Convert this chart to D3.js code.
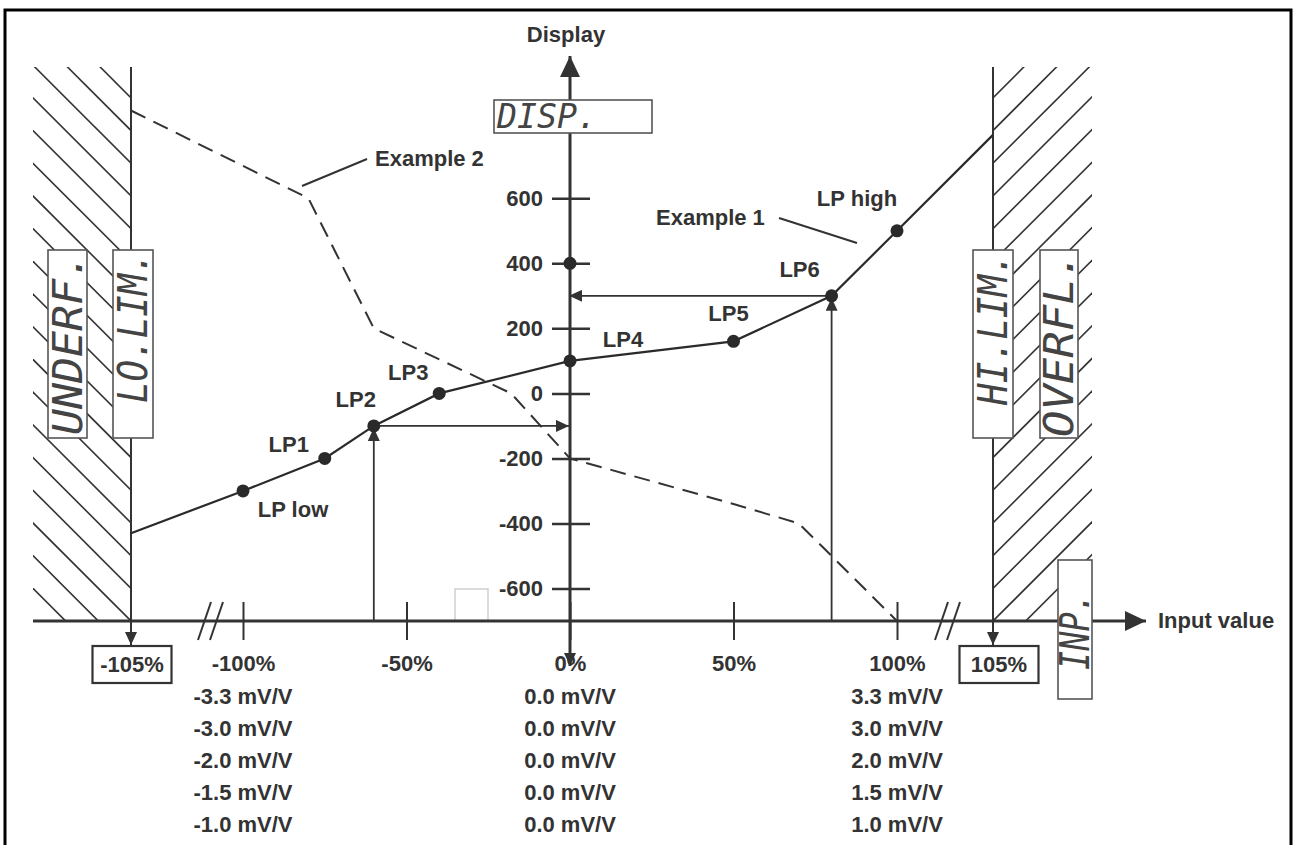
<!DOCTYPE html>
<html>
<head>
<meta charset="utf-8">
<script src="https://cdn.jsdelivr.net/npm/d3@7"></script>
<style>
  html, body { margin: 0; padding: 0; background: #fff; }
  svg { display: block; }
  text { font-family: "Liberation Sans", Arial, sans-serif; font-weight: bold; fill: #333; }
  text.lcd { font-family: "DejaVu Sans Mono", monospace; font-style: italic; font-weight: normal; fill: #444; }
</style>
</head>
<body>
<div id="chart"></div>
<script>
// ------------------------------------------------------------------ DATA
const xTicks = [-100, -50, 0, 50, 100];            // input value, %
const yTicks = [600, 400, 200, 0, -200, -400, -600]; // display
const limits = [-105, 105];

// Example 1 (solid, linearisation points)
const ex1Pct   = [-105, -100, -75, -60, -40, 0, 50, 80, 100, 105];
const ex1Val   = [-430, -300, -200, -100, 0, 100, 160, 300, 500, 795];
const ex1Names = ["", "LP low", "LP1", "LP2", "LP3", "LP4", "LP5", "LP6", "LP high", ""];

// Example 2 (dashed)
const ex2Pct = [-105, -80, -60, -18, 0, 50, 70, 100];
const ex2Val = [870, 600, 200, 0, -200, -340, -400, -700];

const readPoints = ["LP2", "LP6"];   // shown with read-off arrows
const axisDots   = [400];            // extra dot on the display axis

const mvLeft  = ["-3.3 mV/V", "-3.0 mV/V", "-2.0 mV/V", "-1.5 mV/V", "-1.0 mV/V"];
const mvMid   = ["0.0 mV/V", "0.0 mV/V", "0.0 mV/V", "0.0 mV/V", "0.0 mV/V"];
const mvRight = ["3.3 mV/V", "3.0 mV/V", "2.0 mV/V", "1.5 mV/V", "1.0 mV/V"];

// ------------------------------------------------------------------ SETUP
const W = 1296, H = 845;
const INK = '#333';

// broken x axis: -105 / 105 sit beyond the break marks
const x = d3.scaleLinear().domain([-105, -100, 100, 105]).range([131, 243, 897, 993]);
const y = d3.scaleLinear().domain([-700, 600]).range([621, 198.3]);
const x0 = x(0), yBase = y(-700);

const svg = d3.select('#chart').append('svg')
  .attr('width', W).attr('height', H)
  .attr('viewBox', [0, 0, W, H]);

const defs = svg.append('defs');
function marker(id, len, wid) {
  defs.append('marker')
    .attr('id', id)
    .attr('viewBox', `0 0 ${len} ${wid}`)
    .attr('refX', len).attr('refY', wid / 2)
    .attr('markerWidth', len).attr('markerHeight', wid)
    .attr('markerUnits', 'userSpaceOnUse')
    .attr('orient', 'auto')
    .append('path')
    .attr('d', `M0,0L${len},${wid / 2}L0,${wid}Z`)
    .attr('fill', INK);
}
marker('big', 21, 20);
marker('small', 13, 12);

// ------------------------------------------------------------------ FRAME
svg.append('rect')
  .attr('x', 5).attr('y', 10).attr('width', 1286).attr('height', 870)
  .attr('fill', 'none').attr('stroke', '#000').attr('stroke-width', 3);

// ------------------------------------------------------------------ HATCHED LIMIT ZONES
const hatchTop = 67;
const zones = [
  { id: 'clipL', x1: 33, x2: x(-105), dir: -1 },
  { id: 'clipR', x1: x(105), x2: 1092, dir: 1 }
];
zones.forEach(z => {
  defs.append('clipPath').attr('id', z.id)
    .append('rect').attr('x', z.x1).attr('y', hatchTop)
    .attr('width', z.x2 - z.x1).attr('height', yBase - hatchTop);
  const g = svg.append('g').attr('clip-path', `url(#${z.id})`)
    .attr('stroke', INK).attr('stroke-width', 1.6);
  const cornerX = z.dir < 0 ? z.x2 : z.x1;
  d3.range(-20, 21).forEach(k => {
    const off = k * 32.7;
    if (z.dir < 0) {           // "\" lines through the bottom corner
      g.append('line')
        .attr('x1', cornerX + off - 700).attr('y1', yBase - 700)
        .attr('x2', cornerX + off + 100).attr('y2', yBase + 100);
    } else {                   // "/" lines
      g.append('line')
        .attr('x1', cornerX + off - 100).attr('y1', yBase + 100)
        .attr('x2', cornerX + off + 700).attr('y2', yBase - 700);
    }
  });
});

// limit lines
svg.append('g').selectAll('line')
  .data(limits).join('line')
  .attr('x1', d => x(d)).attr('x2', d => x(d))
  .attr('y1', hatchTop).attr('y2', yBase)
  .attr('stroke', INK).attr('stroke-width', 2);

// faint square near the axis
svg.append('rect')
  .attr('x', 455).attr('y', 589).attr('width', 33).attr('height', 32)
  .attr('fill', 'none').attr('stroke', '#cfcfcf').attr('stroke-width', 1.5);

// ------------------------------------------------------------------ EXAMPLE 2 (dashed)
const ex2 = ex2Pct.map((p, i) => [p, ex2Val[i]]);
const line = d3.line().x(d => x(d[0])).y(d => y(d[1]));
svg.append('path')
  .attr('d', line(ex2))
  .attr('fill', 'none').attr('stroke', INK).attr('stroke-width', 2)
  .attr('stroke-dasharray', '16,9');

// ------------------------------------------------------------------ AXES
// x axis
svg.append('line')
  .attr('x1', 33).attr('x2', 1146).attr('y1', yBase).attr('y2', yBase)
  .attr('stroke', INK).attr('stroke-width', 3).attr('marker-end', 'url(#big)');

const gx = svg.append('g')
  .attr('transform', `translate(0,${yBase})`)
  .call(d3.axisBottom(x).tickValues(xTicks).tickSize(19).tickFormat(d => d + '%'));
gx.attr('font-size', null).attr('font-family', null).attr('color', INK);
gx.select('.domain').remove();
gx.selectAll('.tick line').attr('y1', -19).attr('stroke-width', 2);
gx.selectAll('.tick text').attr('y', 50).attr('dy', 0).style('font-size', '22px');

// break marks
[x(-100) - 45, x(100) + 38].forEach(bx => {
  [0, 12].forEach(o => {
    svg.append('line')
      .attr('x1', bx + o).attr('y1', yBase + 19)
      .attr('x2', bx + o + 13).attr('y2', yBase - 19)
      .attr('stroke', INK).attr('stroke-width', 2);
  });
});

// y axis
svg.append('line')
  .attr('x1', x0).attr('x2', x0).attr('y1', yBase).attr('y2', 56)
  .attr('stroke', INK).attr('stroke-width', 3).attr('marker-end', 'url(#big)');
svg.append('line')
  .attr('x1', x0).attr('x2', x0).attr('y1', yBase).attr('y2', 666)
  .attr('stroke', INK).attr('stroke-width', 3).attr('marker-end', 'url(#small)');

const gy = svg.append('g')
  .attr('transform', `translate(${x0},0)`)
  .call(d3.axisLeft(y).tickValues(yTicks).tickSize(18).tickPadding(9)
    .tickFormat(d => String(d)));
gy.attr('font-size', null).attr('font-family', null).attr('color', INK);
gy.select('.domain').remove();
gy.selectAll('.tick line').attr('x1', 20).attr('stroke-width', 2.5);
gy.selectAll('.tick text').style('font-size', '22px');

svg.append('text').attr('x', x0 - 4).attr('y', 42)
  .attr('text-anchor', 'middle').style('font-size', '22px').text('Display');
svg.append('text').attr('x', 1158).attr('y', 628)
  .style('font-size', '22px').text('Input value');

// ------------------------------------------------------------------ EXAMPLE 1 (solid)
const ex1 = ex1Pct.map((p, i) => ({ p, v: ex1Val[i], name: ex1Names[i] }));

// read-off arrows
ex1.filter(d => readPoints.includes(d.name)).forEach(d => {
  const px = x(d.p), py = y(d.v);
  svg.append('line')
    .attr('x1', px).attr('x2', px).attr('y1', yBase).attr('y2', py + 2)
    .attr('stroke', INK).attr('stroke-width', 1.8).attr('marker-end', 'url(#small)');
  svg.append('line')
    .attr('x1', px).attr('x2', x0 - 1).attr('y1', py).attr('y2', py)
    .attr('stroke', INK).attr('stroke-width', 1.8).attr('marker-end', 'url(#small)');
});

svg.append('path')
  .attr('d', line(ex1.map(d => [d.p, d.v])))
  .attr('fill', 'none').attr('stroke', '#2a2a2a').attr('stroke-width', 2.2);

svg.append('g').selectAll('circle')
  .data(ex1.filter(d => d.name))
  .join('circle')
  .attr('cx', d => x(d.p)).attr('cy', d => y(d.v)).attr('r', 6.5)
  .attr('fill', '#2a2a2a');

svg.append('g').selectAll('circle')
  .data(axisDots)
  .join('circle')
  .attr('cx', x0).attr('cy', d => y(d)).attr('r', 6.5)
  .attr('fill', '#2a2a2a');

const lpOffset = {
  'LP low': [50, 26], 'LP1': [-36, -6], 'LP2': [-18, -19], 'LP3': [-31, -13],
  'LP4': [53, -14], 'LP5': [-5, -20], 'LP6': [-32, -19], 'LP high': [-40, -25]
};
svg.append('g').selectAll('text')
  .data(ex1.filter(d => d.name))
  .join('text')
  .attr('x', d => x(d.p) + lpOffset[d.name][0])
  .attr('y', d => y(d.v) + lpOffset[d.name][1])
  .attr('text-anchor', 'middle')
  .style('font-size', '22px')
  .text(d => d.name);

// example callouts
svg.append('text').attr('x', 375).attr('y', 166).style('font-size', '22px').text('Example 2');
svg.append('line').attr('x1', 302).attr('y1', 186).attr('x2', 367).attr('y2', 159)
  .attr('stroke', INK).attr('stroke-width', 2);
svg.append('text').attr('x', 656).attr('y', 225).style('font-size', '22px').text('Example 1');
svg.append('line').attr('x1', 779).attr('y1', 218).attr('x2', 857).attr('y2', 243)
  .attr('stroke', INK).attr('stroke-width', 2);

// ------------------------------------------------------------------ LIMIT BOXES
limits.forEach(l => {
  const lx = x(l);
  svg.append('line')
    .attr('x1', lx).attr('x2', lx).attr('y1', yBase).attr('y2', 645)
    .attr('stroke', INK).attr('stroke-width', 2).attr('marker-end', 'url(#small)');
  const cx = lx + (l > 0 ? 6 : 1);
  svg.append('rect')
    .attr('x', cx - 39.5).attr('y', 646).attr('width', 79).attr('height', 37)
    .attr('fill', '#fff').attr('stroke', INK).attr('stroke-width', 2.2);
  svg.append('text')
    .attr('x', cx).attr('y', 672).attr('text-anchor', 'middle')
    .style('font-size', '22px').text(l + '%');
});

// ------------------------------------------------------------------ LCD DISPLAY BOXES
const lcdBoxes = [
  { t: 'UNDERF.', x: 48,   y: 250, w: 39,  h: 188, start: 435, len: 182 },
  { t: 'LO.LIM.', x: 113,  y: 250, w: 40,  h: 188, start: 403, len: 151 },
  { t: 'HI.LIM.', x: 973,  y: 250, w: 40,  h: 188, start: 405, len: 152 },
  { t: 'OVERFL.', x: 1040, y: 250, w: 38,  h: 188, start: 437, len: 185 },
  { t: 'INP.',    x: 1058, y: 560, w: 34,  h: 139, start: 670, len: 77 }
];
lcdBoxes.forEach(b => {
  svg.append('rect')
    .attr('x', b.x).attr('y', b.y).attr('width', b.w).attr('height', b.h)
    .attr('fill', '#fff').attr('stroke', '#555').attr('stroke-width', 1.6);
  svg.append('text')
    .attr('class', 'lcd')
    .attr('transform', `translate(${b.x + b.w / 2 + 14},${b.start}) rotate(-90)`)
    .attr('textLength', b.len).attr('lengthAdjust', 'spacingAndGlyphs')
    .style('font-size', '40px')
    .text(b.t);
});

svg.append('rect')
  .attr('x', 494).attr('y', 100).attr('width', 158).attr('height', 33)
  .attr('fill', '#fff').attr('stroke', '#555').attr('stroke-width', 1.6);
svg.append('text')
  .attr('class', 'lcd')
  .attr('x', 497).attr('y', 128)
  .attr('textLength', 100).attr('lengthAdjust', 'spacingAndGlyphs')
  .style('font-size', '34px')
  .text('DISP.');

// ------------------------------------------------------------------ SENSITIVITY TABLE
[[mvLeft, -100], [mvMid, 0], [mvRight, 100]].forEach(([col, p]) => {
  svg.append('g').selectAll('text')
    .data(col)
    .join('text')
    .attr('x', x(p))
    .attr('y', (d, i) => 704 + i * 32)
    .attr('text-anchor', 'middle')
    .style('font-size', '22px')
    .text(d => d);
});
</script>
</body>
</html>
